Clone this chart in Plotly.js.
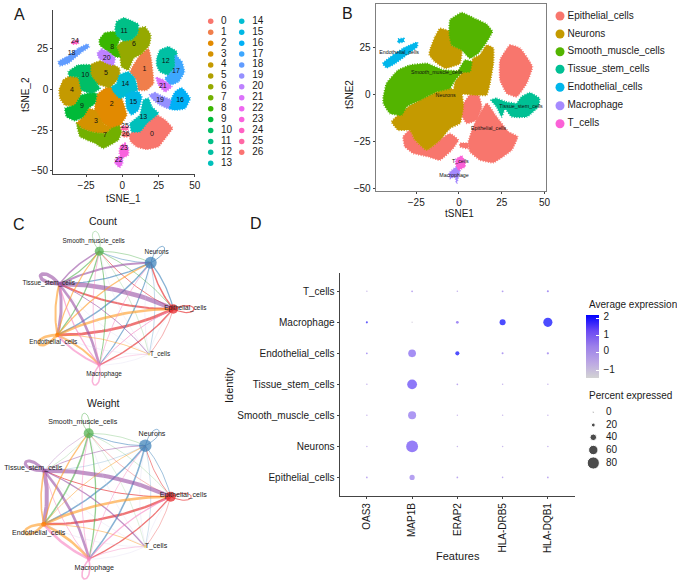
<!DOCTYPE html>
<html><head><meta charset="utf-8">
<script src="https://cdn.plot.ly/plotly-3.0.1.min.js"></script>
<style>html,body{margin:0;padding:0;background:#fff}</style></head>
<body><div id="chart" style="width:677px;height:585px"></div>
<script>
const W=677,H=585,FONT='"Liberation Sans", Arial, sans-serif',INK='#1a1a1a';
// ---------- Panel A: tSNE clusters (outlines, tSNE units)
const A0=[[4.8,-28],[14.5,-20.9],[23.7,-15.7],[29.5,-18.8],[34.5,-23.9],[29.5,-30.1],[24.9,-35.2],[16.8,-36.8],[9.9,-35.2],[5.8,-32.1]];
const A1=[[6.4,12.9],[12.2,21.1],[18,25.2],[19.8,19],[21.4,3.7],[16.8,-0.4],[11,-0.4],[9.9,5.7],[5.3,10.8]];
const A2=[[-17.7,-3.5],[-10.8,1.2],[-3.9,1.2],[-1.2,-3.5],[3,-15.7],[-2,-22.5],[-7.4,-23.9],[-13.1,-20.9],[-18.9,-13.7]];
const A3=[[-18.9,-12.7],[-13.1,-20.9],[-7.4,-23.9],[-10.8,-27],[-15.4,-27],[-22.3,-26],[-28.1,-23.9],[-31.5,-20.9],[-26.9,-16.8],[-23.5,-11.7]];
const A4=[[-43.5,-0.4],[-40.7,5.7],[-36.1,8.2],[-30.4,7.4],[-28.1,-0.4],[-29.2,-4.5],[-32.7,-10.2],[-39.6,-9.6],[-43,-5.5]];
const A5=[[-22.3,14.9],[-15.4,17.4],[-8.5,16],[-2,12.9],[-2,7.8],[-8.5,1.2],[-17.7,3.7],[-21.9,8.8]];
const A6=[[10.6,37.4],[15.7,38.4],[19.6,33.3],[18.6,27.2],[13.4,22.1],[7.6,19],[4.1,11.9],[-0.5,13.9],[-1.6,20],[-3.9,26.2],[0.7,29.9],[6.5,30.7],[10.6,34.4]];
const A7=[[-31.5,-20.9],[-28.1,-23.9],[-22.3,-26],[-15.4,-27],[-10.8,-27],[-7.4,-23.9],[-2,-22.5],[-0.5,-26],[-2.8,-31.1],[-8.5,-34.2],[-13.1,-36.2],[-18.9,-33.1],[-24.2,-31.1],[-29.2,-29]];
const A8=[[-15.9,30.3],[-12,34.8],[-5,35.4],[-1.6,31.3],[-3.9,26.2],[-1.6,20],[-5,20],[-9.7,23.1],[-15.4,27.2]];
const A9=[[-39.6,-11.7],[-32.7,-9.6],[-28.1,-3.5],[-21.2,-2],[-17.7,-2.5],[-18.9,-8.6],[-23.5,-11.7],[-26.9,-16.8],[-32.7,-19.2],[-38.4,-16.8]];
const A10=[[-37.3,10.8],[-30.4,14.9],[-22.3,14.9],[-21.9,8.8],[-17.7,3.7],[-15.4,0.6],[-21.2,-2.5],[-28.1,-0.4],[-30.4,7.4],[-36.6,8.2]];
const A11=[[-5,37.4],[-4,41.5],[1,44],[6.5,42],[11,40],[10.6,34.4],[6.5,30.7],[0.7,29.9],[-4,33.3]];
const A12=[[23.7,19],[26,24.1],[31.8,26.2],[37.5,23.1],[36.4,13.9],[31.8,8.8],[26,10.8],[23.7,14.9]];
const A13=[[5.3,-20.9],[12.2,-15.7],[14.5,-6.5],[18,-5.5],[20.3,-10.6],[24.9,-14.7],[16.8,-20.9],[12.2,-26],[6.4,-26]];
const A14=[[-7.4,1.6],[-3.9,3.7],[-2,8.8],[4.1,10.8],[8.7,6.7],[10.4,-0.4],[4.1,-3.5],[-1.6,-5.5],[-6.2,-1.4]];
const A15=[[2.5,-3.5],[6.4,-1.4],[11,-1.4],[13.4,-4.5],[11,-12.7],[6.4,-15.7],[3,-11.7]];
const A16=[[32.9,-7.6],[36.4,-1.4],[41,1],[46.7,-5.5],[43.3,-11.7],[36.4,-12.7],[31.8,-11.7]];
const A17=[[36.4,21.1],[41,17],[42.8,10.8],[38.7,4.7],[32.9,2.7],[29.5,6.7],[32.9,9.8],[36.4,13.9]];
const A18=[[-44.2,17],[-38.4,20],[-30.4,25.2],[-24.2,27.8],[-22.8,26.2],[-29.2,22.1],[-37.3,16],[-43,14.5]];
const A19=[[18.6,-3.5],[22.6,-2],[28.3,-4.5],[33.4,-6.5],[31.8,-11.7],[26,-9.6],[21.4,-6.5]];
const A20=[[-17.3,22.1],[-14.3,24.7],[-9.7,23.1],[-5,19],[-6.2,14.9],[-10.8,16],[-15.9,19]];
const A21=[[23.3,7.4],[28.3,5.7],[34.1,1.6],[29.5,-1.4],[24.9,2.7]];
const A22=[[-5,-43.4],[-0.5,-40.3],[0.2,-45.4],[-2,-48],[-5,-45.4]];
const A23=[[-1.6,-35.2],[1.8,-33.1],[4.1,-36.2],[4.1,-40.3],[-0.5,-42.3],[-2,-39.3]];
const A24=[[-35,29.2],[-30.4,30.3],[-30.4,28.2],[-34.3,27.8]];
const A25=[[-0.5,-22.5],[4,-23],[4,-25],[-0.5,-25]];
const A26=[[0,-26.5],[4,-26.5],[4,-29],[0.3,-29]];
const clusterOutlines=[A0,A1,A2,A3,A4,A5,A6,A7,A8,A9,A10,A11,A12,A13,A14,A15,A16,A17,A18,A19,A20,A21,A22,A23,A24,A25,A26];
const clusterNames=['0','1','2','3','4','5','6','7','8','9','10','11','12','13','14','15','16','17','18','19','20','21','22','23','24','25','26'];
const clusterColors=['#F8766D','#F07E4B','#E28A00','#D49200','#C49A00','#B09F00','#95A900','#72B000','#39B600','#00BA38','#00BE67','#00C087','#00C0A3','#00C0BB','#00BDD2','#00B8E5','#00B0F6','#3DA7FF','#619CFF','#9590FF','#BD81FF','#DB72FB','#EE67F0','#F962DD','#FF61C3','#FF67A4','#FB7372'];
const clusterLabelX=[20.5,15.2,-7.4,-18.2,-34.8,-11.3,8,-12,-6.9,-27.9,-25.6,1.2,29.9,14.5,2.1,7.6,39.8,37,-35,26,-10.8,27.9,-2.5,1.2,-32.7,1.8,2.3];
const clusterLabelY=[-27.8,12.3,-9.2,-19.4,-0.6,10.2,27.8,-28.4,25.8,-10.2,8.8,36,17.2,-17.4,3.1,-7.8,-6.5,11.2,22.1,-6.5,19.4,1.8,-43.4,-36.4,29.4,-22.9,-27.4];
// ---------- Panel B: cell types
const cellTypes=['Epithelial_cells','Neurons','Smooth_muscle_cells','Tissue_stem_cells','Endothelial_cells','Macrophage','T_cells'];
const cellColors=['#F8766D','#C49A00','#53B400','#00C094','#00B6EB','#A58AFF','#FB61D7'];
const SMtop=[[-5.3,39.9],[1.6,43.8],[10.3,40.2],[16.2,37.7],[19.5,33.7],[16.2,28.3],[11.3,22.1],[6.4,19.4],[1.6,23.9],[-4.3,26.5],[-5.7,32.8]];
const SMsmall=[[-0.4,12.3],[3.5,18.5],[7.4,17.6],[6.4,12.3]];
const SMleft=[[-44.2,-1.1],[-42.3,6.1],[-35.5,13.2],[-28.7,15.8],[-18.9,16.7],[-9.2,13.2],[1.6,12.3],[-2.3,7.8],[-5.3,3.4],[-13.1,1.6],[-22.8,-2.8],[-30.6,-6.4],[-33.5,-10.9],[-40.4,-10],[-44.2,-4.6]];
const Nupper=[[-17,23.9],[-14,31],[-11.1,35.4],[-5.3,33.7],[-4.3,26.5],[1.6,23.9],[0.6,16.7],[-8.2,14.1],[-14,17.6],[-17.3,21.2]];
const Nright=[[-2.3,6.9],[2.5,12.3],[6.4,15.8],[8.4,19.4],[12.3,21.2],[16.2,26.5],[20.1,24.8],[20.1,16.7],[18.1,6.1],[16.2,-0.2],[10.3,-0.2],[0.6,0.7],[-2.9,2.5]];
const Ncentral=[[-39.4,-14.4],[-34.5,-10],[-29.6,-6.4],[-22.8,-2.8],[-13.1,1.6],[-5.3,3.4],[1.6,0.7],[2.5,-6.4],[0.6,-15.3],[-5.3,-18],[-11.1,-24.2],[-18.9,-29.6],[-25.7,-24.2],[-28.7,-18.9],[-35.5,-18.9]];
const Eright=[[24,18.5],[29.8,26.5],[35.7,24.8],[42.9,15],[39.6,6.1],[33.7,-1.1],[27.9,0.7],[24,7.8]];
const Ecenter=[[1.6,-6.4],[6.4,-0.2],[11.3,-0.2],[13.3,-6.4],[10.3,-13.5],[4.5,-15.3],[1.6,-10.9]];
const Ebig=[[5.5,-25.1],[8.4,-17.1],[16.2,-4.6],[22,-11.8],[28.9,-19.8],[34.3,-22.4],[30.8,-29.6],[20.1,-36.3],[12.3,-34.9],[6.4,-30.4]];
const Ebl=[[-32.6,-22.4],[-28.7,-18.9],[-25.7,-24.2],[-18.9,-29.6],[-11.1,-24.2],[-5.3,-20.7],[-0.4,-24.2],[-4.3,-29.6],[-11.1,-34.9],[-17.9,-33.1],[-26.7,-31.3],[-31.6,-27.8]];
const Esmall=[[0.6,-26],[5.5,-26],[5.5,-28.7],[0.6,-27.8]];
const TSmain=[[18.7,-2.8],[22,-2],[26.9,-3.7],[33.7,-4.6],[36.6,-1.1],[41.5,1.1],[47,-2],[46.4,-6.4],[39.6,-11.8],[30.8,-11.8],[26.9,-7.3],[25,-11.8],[22,-6.4]];
const EDmain=[[-44.6,16.7],[-38.4,21.2],[-32.6,24.8],[-24.4,28],[-24.4,25.6],[-30.6,21.2],[-37.4,16.7],[-42.3,14.4]];
const EDsmall=[[-35.5,29.6],[-32.2,30.1],[-32.2,28.3],[-35.5,27.8]];
const MACmain=[[-5.8,-42],[-1.4,-38.5],[0.6,-40.2],[-0.4,-43.8],[-1.4,-47.4],[-2.3,-43.8],[-5.3,-44.7]];
const TCmain=[[-1.8,-34.5],[1.6,-32.8],[3.5,-35.8],[3.5,-38.5],[-0.4,-40.2],[-1.8,-37.6]];
const cellOutlines=[[Eright,Ecenter,Ebig,Ebl,Esmall],[Nupper,Nright,Ncentral],[SMtop,SMsmall,SMleft],[TSmain],[EDmain,EDsmall],[MACmain],[TCmain]];
const cellLabelX=[17.3,-7.8,-13,36.3,-35,-2.9,0.8];
const cellLabelY=[-18.3,-0.5,11.9,-6.4,22.4,-43.1,-35.6];
// ---------- Panels C: network (order follows cellTypes; row = source, col = target; widths)
const nodeColors=['#E41A1C','#377EB8','#4DAF4A','#984EA3','#FF7F00','#F781BF','#EDE27A'];
const edgeColors=['#E41A1C','#377EB8','#4DAF4A','#984EA3','#FF9A1F','#F781BF','#CFC8E8'];
const countNodeX=[173.3,150.7,99.3,59.3,57.3,99.3,149];
const countNodeY=[309,262.7,251.3,284,335,365,354.3];
const countNodeSize=[9.5,12,9,4,4.5,3.5,2.5];
const countLabelX=[185.3,156.7,93.7,48.7,53.3,104,160];
const countLabelY=[308.3,252.3,241,283.3,342.7,374,354.7];
const countWidths=[[1.2,1.5,.9,2,2.8,1.5,.6],[1.3,1,.8,1.3,1.5,1.2,.5],[.8,.7,.6,1.2,1.3,1,.4],[4.5,2,1.5,3.5,3,2.6,1],[2.6,1.3,1.2,2,2.6,2,.8],[1,.8,.8,1.3,2,1.5,.5],[.4,.4,.4,.4,.4,.4,0]];
const weightNodeX=[170.7,145.3,88.7,44.3,43.7,89,145.3];
const weightNodeY=[496.7,445.7,433.3,470.7,524.3,559,546.7];
const weightNodeSize=[10,12.5,10,4,5,4,3];
const weightLabelX=[183.3,152,82.7,33.3,38.7,94.3,156];
const weightLabelY=[495.7,434,422,468,533.3,568,546.7];
const weightWidths=[[1,.8,.5,1,2.4,1.3,.5],[.8,.9,.9,.4,1.6,1.6,.4],[.4,.5,.8,.4,1.6,1.3,.3],[4,.8,.5,3,4,2.6,1.3],[2.6,.8,1.3,1.6,2.6,2.6,.8],[1.3,.7,.8,.8,2.6,1.6,.7],[.4,.4,.4,.4,.4,.4,0]];
// ---------- Panel D: dot plot
const features=['OAS3','MAP1B','ERAP2','HLA-DRB5','HLA-DQB1'];
const identities=['Epithelial_cells','Neurons','Smooth_muscle_cells','Tissue_stem_cells','Endothelial_cells','Macrophage','T_cells'];
const pctExpressed=[[5,30,5,4,5],[2,78,2,2,3],[2,50,2,2,2],[3,63,5,2,2],[5,48,22,7,9],[8,2,12,36,58],[2,6,4,6,8]];
const avgExpression=[[.3,.5,.3,.1,.3],[-.2,1.3,-.3,-.3,-.1],[-.3,.7,-.4,-.4,-.3],[-.1,1.4,.3,-.2,-.2],[.8,.9,2.15,.6,.6],[1.9,-1.2,1,2.2,2.2],[-.5,.3,-.1,.5,.8]];
const exprTicks=[2,1,0,-1];
const pctLegend=[0,20,40,60,80];

const dx=p=>p/W, dy=p=>1-p/H;
const sizeOf=p=>Math.max(1.5,1+p*.14);
const traces=[];
const blob={width:1.8,shape:'spline',smoothing:.35,dash:'1px,1.5px'};
// Panel A
clusterOutlines.forEach((o,i)=>traces.push({type:'scatter',mode:'lines',xaxis:'x',yaxis:'y',x:o.map(p=>p[0]).concat(o[0][0]),y:o.map(p=>p[1]).concat(o[0][1]),
  fill:'toself',fillcolor:clusterColors[i],line:{...blob,color:clusterColors[i]},hoverinfo:'skip',showlegend:false}));
traces.push({type:'scatter',mode:'text',xaxis:'x',yaxis:'y',x:clusterLabelX,y:clusterLabelY,text:clusterNames,textfont:{size:7,color:'#111',family:FONT},hoverinfo:'skip',showlegend:false});
// Panel B
cellOutlines.forEach((group,i)=>group.forEach(o=>traces.push({type:'scatter',mode:'lines',xaxis:'x2',yaxis:'y2',x:o.map(p=>p[0]).concat(o[0][0]),y:o.map(p=>p[1]).concat(o[0][1]),
  fill:'toself',fillcolor:cellColors[i],line:{...blob,color:cellColors[i]},hoverinfo:'skip',showlegend:false})));
traces.push({type:'scatter',mode:'text',xaxis:'x2',yaxis:'y2',x:cellLabelX,y:cellLabelY,text:cellTypes,textfont:{size:5.3,color:'#111',family:FONT},hoverinfo:'skip',showlegend:false});
// Overlay legends (page coordinates on x4/y4)
const over={xaxis:'x4',yaxis:'y4',hoverinfo:'skip',showlegend:false,type:'scatter'};
const legAx=clusterNames.map((_,i)=>i<14?210.7:241.7), legAy=clusterNames.map((_,i)=>21.3+(i<14?i:i-14)*10.92);
traces.push({...over,mode:'markers',x:legAx,y:legAy,marker:{size:5.5,color:clusterColors}});
traces.push({...over,mode:'text',x:clusterNames.map((_,i)=>i<14?221:252.3),y:legAy,text:clusterNames,textposition:'middle right',textfont:{size:10,color:INK,family:FONT}});
const legBy=[16,34,51.7,69.3,87.3,105.7,123.7];
traces.push({...over,mode:'markers',x:cellTypes.map(()=>560),y:legBy,marker:{size:9,color:cellColors}});
traces.push({...over,mode:'text',x:cellTypes.map(()=>567.5),y:legBy,text:cellTypes,textposition:'middle right',textfont:{size:10,color:INK,family:FONT}});
// Network
function network(nx,ny,ns,lx,ly,widths,lsize){
  const cx=nx.reduce((a,b)=>a+b)/7, cy=ny.reduce((a,b)=>a+b)/7;
  widths.forEach((row,s)=>row.forEach((w,t)=>{
    if(!w) return;
    const xs=[],ys=[];
    if(s===t){
      const a=Math.atan2(ny[s]-cy,nx[s]-cx), h=30, sp=.42;
      const c1=[nx[s]+h*Math.cos(a-sp),ny[s]+h*Math.sin(a-sp)], c2=[nx[s]+h*Math.cos(a+sp),ny[s]+h*Math.sin(a+sp)];
      for(let k=0;k<=30;k++){const u=k/30,v=1-u;
        xs.push(3*v*v*u*c1[0]+3*v*u*u*c2[0]+(v*v*v+u*u*u)*nx[s]);
        ys.push(3*v*v*u*c1[1]+3*v*u*u*c2[1]+(v*v*v+u*u*u)*ny[s]);}
    } else {
      const ax=nx[s],ay=ny[s],bx=nx[t],by=ny[t],ddx=bx-ax,ddy=by-ay;
      const qx=(ax+bx)/2+.11*ddy, qy=(ay+by)/2-.11*ddx;
      for(let k=0;k<=24;k++){const u=k/24,v=1-u;
        xs.push(v*v*ax+2*v*u*qx+u*u*bx); ys.push(v*v*ay+2*v*u*qy+u*u*by);}
    }
    traces.push({...over,mode:'lines',x:xs,y:ys,line:{color:edgeColors[s],width:w},opacity:.6});
  }));
  traces.push({...over,mode:'markers',x:nx,y:ny,marker:{size:ns,color:nodeColors,line:{width:0}}});
  traces.push({...over,mode:'text',x:lx,y:ly,text:cellTypes,textfont:{size:lsize,color:'#222',family:FONT}});
}
network(countNodeX,countNodeY,countNodeSize,countLabelX,countLabelY,countWidths,6.4);
network(weightNodeX,weightNodeY,weightNodeSize,weightLabelX,weightLabelY,weightWidths,7.1);
// Panel D dots
const dotX=[],dotY=[],dotS=[],dotC=[];
identities.forEach((id,r)=>features.forEach((f,c)=>{dotX.push(f);dotY.push(id);dotS.push(sizeOf(pctExpressed[r][c]));dotC.push(avgExpression[r][c]);}));
const scale=[[0,'#D3D3D3'],[.25,'#BBA6E4'],[.5,'#9C80EA'],[.75,'#6A48F4'],[1,'#0000FF']];
traces.push({type:'scatter',mode:'markers',xaxis:'x3',yaxis:'y3',x:dotX,y:dotY,hoverinfo:'skip',showlegend:false,
  marker:{size:dotS,color:dotC,colorscale:scale,cmin:-1.44,cmax:2.2,line:{width:0},
    colorbar:{x:585.7/W,xanchor:'left',y:dy(377.7),yanchor:'bottom',lenmode:'pixels',len:63.4,thicknessmode:'pixels',thickness:13.3,xpad:0,ypad:0,
      tickvals:exprTicks,showticklabels:false,ticks:'inside',ticklen:3,tickcolor:'#fff',outlinewidth:0}}});
traces.push({...over,mode:'text',x:exprTicks.map(()=>603.5),y:[317.7,335,351.7,370],text:exprTicks.map(v=>String(v).replace('-','\u2212')),textposition:'middle right',textfont:{size:10,color:INK,family:FONT}});
traces.push({...over,mode:'markers',x:pctLegend.map(()=>593.3),y:[412.3,425,437.3,450,463],marker:{color:'#000',size:pctLegend.map(sizeOf)}});
traces.push({...over,mode:'text',x:pctLegend.map(()=>606),y:[412.3,425,437.3,450,463],text:pctLegend.map(String),textposition:'middle right',textfont:{size:10,color:INK,family:FONT}});

const tf={size:10,color:INK,family:FONT};
const cow={showgrid:false,zeroline:false,showline:true,linecolor:'#444',linewidth:1.1,ticks:'outside',ticklen:2,tickcolor:'#444',tickwidth:1,tickfont:tf};
const note=(x,y,t,s,extra)=>Object.assign({xref:'paper',yref:'paper',x:dx(x),y:dy(y),text:t,showarrow:false,font:{size:s,color:INK,family:FONT},xanchor:'center',yanchor:'middle'},extra||{});
const layout={width:W,height:H,margin:{l:0,r:0,t:0,b:0},paper_bgcolor:'#fff',plot_bgcolor:'rgba(0,0,0,0)',showlegend:false,font:{family:FONT,color:INK},
 xaxis:{...cow,domain:[dx(53.3),dx(195)],range:[-47.6,50.1],tickvals:[-25,0,25,50],anchor:'y'},
 yaxis:{...cow,domain:[dy(174),dy(10)],range:[-52,48.8],tickvals:[-50,-25,0,25],anchor:'x'},
 xaxis2:{...cow,domain:[dx(375.7),dx(545.7)],range:[-48.7,50.7],tickvals:[-25,0,25,50],anchor:'y2',mirror:true,linecolor:'#7f7f7f'},
 yaxis2:{...cow,domain:[dy(191.3),dy(4.3)],range:[-51.6,48.3],tickvals:[-50,-25,0,25],anchor:'x2',mirror:true,linecolor:'#7f7f7f'},
 xaxis3:{...cow,domain:[dx(339.7),dx(575)],type:'category',categoryorder:'array',categoryarray:features,range:[-.6,4.6],anchor:'y3',tickangle:-90},
 yaxis3:{...cow,domain:[dy(496),dy(272.7)],type:'category',categoryorder:'array',categoryarray:identities,range:[-.6,6.6],anchor:'x3'},
 xaxis4:{domain:[0,1],range:[0,W],visible:false,anchor:'y4',fixedrange:true},
 yaxis4:{domain:[0,1],range:[H,0],visible:false,anchor:'x4',fixedrange:true},
 annotations:[note(19,14,'A',16),note(347,13,'B',16),note(19,225,'C',16),note(256,224,'D',16),
  note(103,221,'Count',10.5),note(103,403,'Weight',10.5),
  note(124,198,'tSNE_1',10),note(26,95,'tSNE_2',10,{textangle:-90}),
  note(459,213,'tSNE1',10),note(350,95,'tSNE2',10,{textangle:-90}),
  note(457.7,556,'Features',11),note(229,385,'Identity',11,{textangle:-90}),
  note(587,304,'Average expression',10,{xanchor:'left'}),note(587,395.7,'Percent expressed',10,{xanchor:'left'})]
};
Plotly.newPlot('chart',traces,layout,{staticPlot:true,displayModeBar:false});
</script></body></html>
